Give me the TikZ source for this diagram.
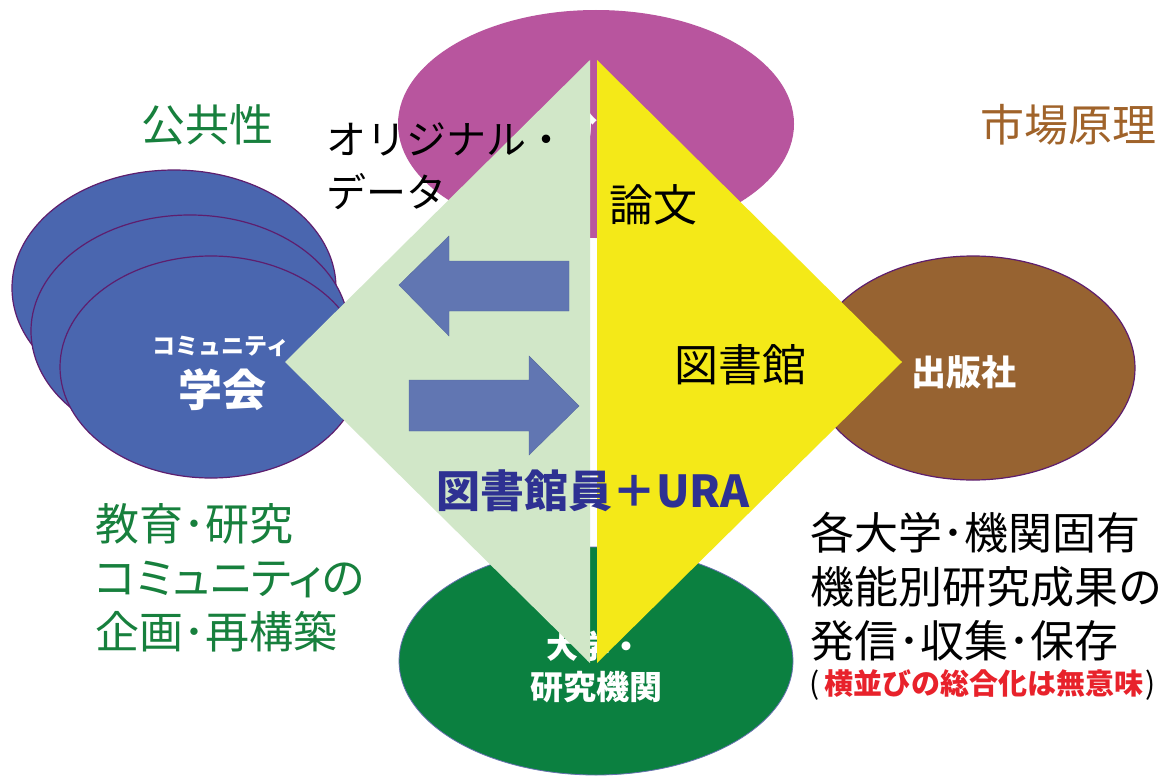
\documentclass[tikz,border=0pt]{standalone}
\usepackage{fontspec}
\newfontfamily\jp{Noto Sans CJK JP}
\newfontfamily\jpp[RawFeature=+palt]{Noto Sans CJK JP}
\usetikzlibrary{shapes.geometric}
\definecolor{purpleell}{HTML}{B8559E}
\definecolor{blueell}{HTML}{4A66AF}
\definecolor{blueline}{HTML}{5E1E6E}
\definecolor{brownell}{HTML}{976331}
\definecolor{greenell}{HTML}{0B8040}
\definecolor{greenline}{HTML}{6670B0}
\definecolor{lightgreen}{HTML}{D1E7C8}
\definecolor{yellowhalf}{HTML}{F4E918}
\definecolor{arrowblue}{HTML}{6176B2}
\definecolor{txtgreen}{HTML}{17803D}
\definecolor{txtbrown}{HTML}{A0632A}
\definecolor{txtnavy}{HTML}{2E3192}
\definecolor{txtred}{HTML}{E8222B}
\begin{document}
\begin{tikzpicture}[x=1pt,y=-1pt,
  ell/.style={ellipse, inner sep=0pt, line width=1.2pt},
  lbl/.style={inner sep=0pt, font=\jp},
  big/.style={lbl, font=\jp\fontsize{44}{54}\selectfont},
  wbold/.style={lbl, text=white},
  arrowshape/.style={fill=arrowblue, draw=arrowblue!90!black, line width=0.4pt}
]
\useasboundingbox (0,0) rectangle (1164,776);
\fill[white] (0,0) rectangle (1164,776);
% left stacked ellipses
\node[ell, fill=blueell, draw=blueline, minimum width=324pt, minimum height=236pt] (back) at (174,288) {};
\node[ell, fill=blueell, draw=blueline, minimum width=318pt, minimum height=232pt] (mid) at (190,331) {};
\node[ell, fill=blueell, draw=blueline, minimum width=302pt, minimum height=222pt] (front) at (211,367) {};
% top ellipse
\node[ell, fill=purpleell, minimum width=396pt, minimum height=228pt] (topell) at (596,124) {};
\node[wbold, font=\jp\bfseries\fontsize{34}{40}\selectfont] (topname) at (597,125) {分野};
% bottom ellipse
\node[ell, fill=greenell, draw=greenline, line width=0.8pt, minimum width=394pt, minimum height=228pt] (botell) at (596,661) {};
\node[wbold, font=\jp\bfseries\fontsize{32}{40}\selectfont] (daigaku) at (594,646) {大学・};
\node[wbold, font=\jp\bfseries\fontsize{33}{40}\selectfont] (kenkyu) at (596,687) {研究機関};
% right ellipse
\node[ell, fill=brownell, draw=blueline, minimum width=324pt, minimum height=224pt] (pub) at (973,368) {};
\node[wbold, font=\jp\bfseries\fontsize{35}{40}\selectfont] (pubname) at (964,372) {出版社};
% diamond halves
\coordinate (gt) at (590,60);
\coordinate (gl) at (285,362);
\coordinate (gb) at (590,663);
\coordinate (yt) at (597,60);
\coordinate (yr) at (902,362);
\coordinate (yb) at (597,663);
\fill[lightgreen] (gt) -- (gl) -- (gb) -- cycle;
\fill[yellowhalf] (yt) -- (yr) -- (yb) -- cycle;
% arrows
\draw[arrowshape] (399,285) -- (449,236) -- (449,261) -- (569,261) -- (569,311) -- (449,311) -- (449,336) -- cycle;
\draw[arrowshape] (579,406) -- (529,356) -- (529,380) -- (409,380) -- (409,431) -- (529,431) -- (529,455) -- cycle;
% community text
\node[wbold, font=\jp\bfseries\fontsize{23}{28}\selectfont] (comm) at (221,346) {コミュニティ};
\node[wbold, font=\jp\bfseries\fontsize{44}{50}\selectfont] (gakkai) at (222,390) {学会};
% labels
\node[big, text=txtgreen] (kokyo) at (207,125) {公共性};
\node[big, text=txtbrown] (shijo) at (1068,125) {市場原理};
\node[lbl, font=\jp\fontsize{40}{53}\selectfont, align=left, anchor=west] (orig) at (326,166) {オリジナル・\\データ};
\node[big] (ronbun) at (653,205) {論文};
\node[big] (tosho) at (740,365) {図書館};
\node[lbl, font=\jp\bfseries\fontsize{44}{50}\selectfont, text=txtnavy] (ura) at (593,491) {図書館員＋URA};
\node[big, text=txtgreen, align=left, anchor=west] (kyoiku) at (95,578) {教育･研究\\{\jpp コミュニティの}\\企画･再構築};
\node[big, align=left, anchor=west] (kaku) at (810,587) {各大学･機関固有\\機能別研究成果の\\発信･収集･保存};
\node[lbl, font=\jp\fontsize{30}{32}\selectfont, anchor=west] (yoko) at (809,685) {(\hspace{5pt}{\bfseries\fontsize{29}{32}\selectfont\textcolor{txtred}{横並びの総合化は無意味}}\hspace{2pt})};
\end{tikzpicture}
\end{document}
